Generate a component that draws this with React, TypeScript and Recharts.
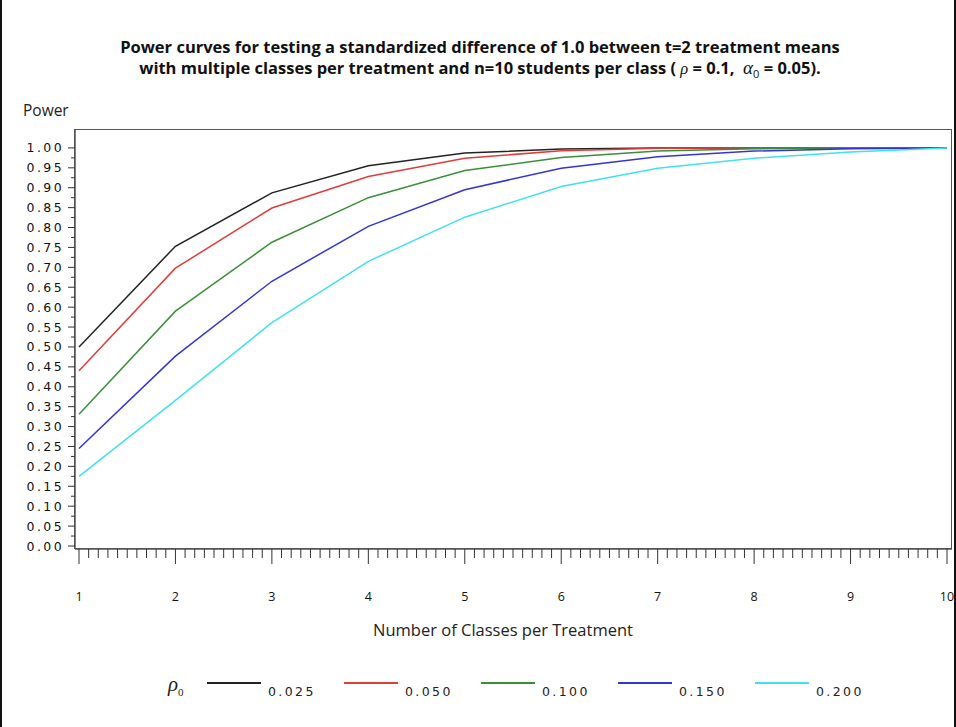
import React from 'react';
import { Line, LineChart, XAxis, YAxis } from 'recharts';

const CLASSES = [1, 2, 3, 4, 5, 6, 7, 8, 9, 10];
const RHO_LABELS = ['0.025', '0.050', '0.100', '0.150', '0.200'];
const COLORS = ['#222222', '#e23b3b', '#3a8f3a', '#3434d6', '#3fe2ee'];

const POWER_025 = [0.5, 0.753, 0.887, 0.955, 0.987, 0.997, 1.0, 1.0, 1.0, 1.0];
const POWER_050 = [0.44, 0.698, 0.849, 0.928, 0.974, 0.993, 0.999, 1.0, 1.0, 1.0];
const POWER_100 = [0.331, 0.59, 0.763, 0.875, 0.943, 0.976, 0.992, 0.998, 1.0, 1.0];
const POWER_150 = [0.245, 0.477, 0.665, 0.803, 0.895, 0.949, 0.978, 0.992, 0.998, 1.0];
const POWER_200 = [0.175, 0.366, 0.561, 0.715, 0.826, 0.903, 0.949, 0.974, 0.99, 1.0];

const SERIES = [POWER_025, POWER_050, POWER_100, POWER_150, POWER_200];

const Y_TICKS = [
  0, 0.05, 0.1, 0.15, 0.2, 0.25, 0.3, 0.35, 0.4, 0.45, 0.5, 0.55, 0.6, 0.65,
  0.7, 0.75, 0.8, 0.85, 0.9, 0.95, 1.0,
];
const X_TICKS = [1, 2, 3, 4, 5, 6, 7, 8, 9, 10];

// minor ticks: halfway on y, tenths on x
const Y_ALL_TICKS = Y_TICKS.flatMap((t, i) =>
  i < Y_TICKS.length - 1 ? [t, (t + Y_TICKS[i + 1]) / 2] : [t]
);
const X_ALL_TICKS = X_TICKS.flatMap((t, i) =>
  i < X_TICKS.length - 1
    ? Array.from({ length: 10 }, (_, k) => t + k / 10)
    : [t]
);

const chartData = CLASSES.map((c, i) => {
  const row: Record<string, number> = { classes: c };
  RHO_LABELS.forEach((r, s) => {
    row[r] = SERIES[s][i];
  });
  return row;
});

const isMajor = (list: number[], v: number) =>
  list.some(t => Math.abs(t - v) < 1e-6);

const TICK_FONT = "'DejaVu Sans', sans-serif";
const LABEL_FONT = "'Open Sans', 'Liberation Sans', sans-serif";

const YTick = (props: any) => {
  const { x, y, payload } = props;
  const major = isMajor(Y_TICKS, payload.value);
  return (
    <g>
      <line x1={x - (major ? 7 : 4)} x2={x} y1={y} y2={y} stroke='#333' />
      {major && (
        <text
          x={x - 11}
          y={y}
          dy={4.5}
          textAnchor='end'
          fontSize={12.5}
          fontFamily={TICK_FONT}
          letterSpacing={2.4}
          fill='#111'
        >
          {payload.value.toFixed(2)}
        </text>
      )}
    </g>
  );
};

const XTick = (props: any) => {
  const { x, y, payload } = props;
  const major = isMajor(X_TICKS, payload.value);
  return (
    <g>
      <line x1={x} x2={x} y1={y} y2={y + (major ? 15 : 9)} stroke='#333' />
      {major && (
        <text
          x={x}
          y={y + 52}
          textAnchor='middle'
          fontSize={12.5}
          fontFamily={LABEL_FONT}
          fill='#111'
        >
          {payload.value}
        </text>
      )}
    </g>
  );
};

export default function App() {
  return (
    <div
      style={{
        position: 'absolute',
        left: 0,
        top: 0,
        width: 956,
        height: 727,
        background: '#fff',
        borderLeft: '2px solid #111',
        borderRight: '2px solid #111',
        boxSizing: 'border-box',
      }}
    >
      <div
        style={{
          position: 'absolute',
          left: 0,
          width: 956,
          top: 36,
          textAlign: 'center',
          fontFamily: LABEL_FONT,
          fontWeight: 700,
          fontSize: 16.5,
          lineHeight: '21px',
          color: '#111',
        }}
      >
        <div>
          Power curves for testing a standardized difference of 1.0 between t=2
          treatment means
        </div>
        <div>
          with multiple classes per treatment and n=10 students per class ({' '}
          <i style={{ fontWeight: 400, fontFamily: 'serif' }}>ρ</i> = 0.1,{' '}
          &nbsp;
          <i style={{ fontWeight: 400, fontFamily: 'serif', fontSize: 19 }}>α</i>
          <sub style={{ fontWeight: 400, fontSize: 11 }}>0</sub> = 0.05).
        </div>
      </div>

      <div
        style={{
          position: 'absolute',
          left: 21,
          top: 99,
          fontFamily: LABEL_FONT,
          fontSize: 15.5,
          color: '#222',
        }}
      >
        Power
      </div>

      {/* plot frame */}
      <div
        style={{
          position: 'absolute',
          left: 72,
          top: 129,
          width: 878,
          height: 420,
          border: '1.5px solid #555',
          boxSizing: 'border-box',
        }}
      />

      <LineChart
        width={956}
        height={727}
        data={chartData}
        margin={{ top: 130, right: 6, left: 0, bottom: 118 }}
        style={{ position: 'absolute', left: 0, top: 0 }}
      >
        <XAxis
          dataKey='classes'
          type='number'
          domain={[1, 10]}
          ticks={X_ALL_TICKS}
          interval={0}
          allowDecimals
          padding={{ left: 4, right: 5 }}
          height={60}
          tickSize={0}
          tickMargin={0}
          tickLine={false}
          tick={<XTick />}
          axisLine={{ stroke: '#555', strokeWidth: 1.5 }}
        />
        <YAxis
          type='number'
          domain={[0, 1.045]}
          ticks={Y_ALL_TICKS}
          interval={0}
          padding={{ bottom: 3 }}
          width={73}
          tickSize={0}
          tickMargin={0}
          tickLine={false}
          tick={<YTick />}
          axisLine={{ stroke: '#555', strokeWidth: 1.5 }}
        />
        {RHO_LABELS.map((r, i) => (
          <Line
            key={r}
            type='linear'
            dataKey={r}
            stroke={COLORS[i]}
            strokeWidth={1.5}
            dot={false}
            isAnimationActive={false}
          />
        ))}
      </LineChart>

      <div
        style={{
          position: 'absolute',
          left: 0,
          width: 1002,
          top: 618,
          textAlign: 'center',
          fontFamily: LABEL_FONT,
          fontSize: 16.5,
          color: '#222',
        }}
      >
        Number of Classes per Treatment
      </div>

      <div
        style={{
          position: 'absolute',
          left: 166,
          top: 672,
          display: 'flex',
          alignItems: 'flex-start',
          color: '#222',
        }}
      >
        <span
          style={{
            fontFamily: 'serif',
            fontStyle: 'italic',
            fontSize: 21,
            width: 39,
            lineHeight: '24px',
          }}
        >
          ρ<sub style={{ fontSize: 11, fontStyle: 'normal' }}>0</sub>
        </span>
        {RHO_LABELS.map((r, i) => (
          <span
            key={r}
            style={{ display: 'flex', alignItems: 'flex-start', width: 137 }}
          >
            <span
              style={{
                display: 'inline-block',
                width: 54,
                height: 0,
                marginTop: 10,
                borderTop: `2px solid ${COLORS[i]}`,
              }}
            />
            <span
              style={{
                marginLeft: 7,
                marginTop: 12,
                fontFamily: TICK_FONT,
                fontSize: 12.5,
                letterSpacing: 2.4,
              }}
            >
              {r}
            </span>
          </span>
        ))}
      </div>
    </div>
  );
}
